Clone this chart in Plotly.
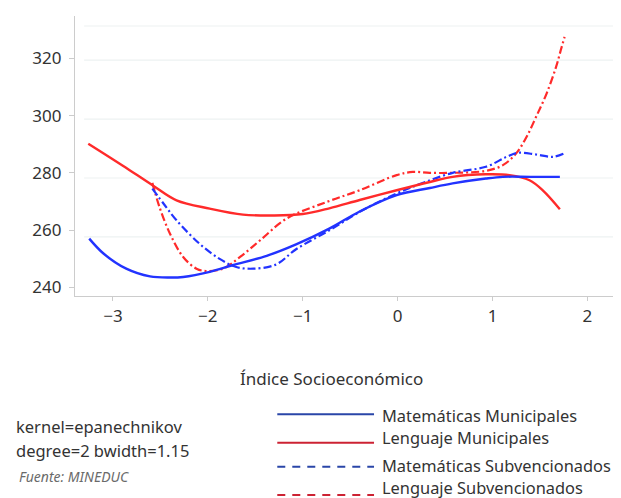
import plotly.graph_objects as go

# ---- data ----
mat_mun_x = [-3.25, -3.1, -2.86, -2.61, -2.4, -2.26, -1.98, -1.74, -1.38, -1.07, -0.72, -0.40, -0.01, 0.34, 0.58, 0.93, 1.11, 1.4, 1.71]
mat_mun_y = [257.0, 251.8, 246.5, 243.8, 243.4, 243.6, 245.4, 247.7, 251.0, 255.0, 260.5, 266.5, 272.2, 274.7, 276.3, 278.0, 278.6, 278.6, 278.6]

len_mun_x = [-3.26, -2.9, -2.58, -2.33, -1.98, -1.63, -1.3, -1.0, -0.72, -0.40, -0.01, 0.34, 0.58, 0.93, 1.18, 1.39, 1.53, 1.71]
len_mun_y = [290.2, 282.6, 275.6, 270.4, 267.5, 265.4, 265.1, 265.6, 267.6, 270.5, 273.9, 276.8, 278.6, 279.5, 279.2, 277.4, 273.9, 267.3]

mat_sub_x = [-2.585, -2.45, -2.33, -2.09, -1.88, -1.70, -1.52, -1.28, -1.07, -0.72, -0.37, -0.01, 0.27, 0.58, 0.93, 1.15, 1.27, 1.46, 1.64, 1.75]
mat_sub_y = [274.5, 268.5, 263.4, 255.3, 250.0, 247.1, 246.5, 248.0, 253.3, 259.9, 266.9, 272.8, 276.5, 280.0, 282.1, 285.6, 287.0, 286.4, 285.6, 286.7]

len_sub_x = [-2.585, -2.51, -2.40, -2.26, -2.12, -2.02, -1.84, -1.66, -1.45, -1.17, -0.75, -0.40, -0.01, 0.16, 0.34, 0.58, 0.93, 1.11, 1.25, 1.36, 1.46, 1.57, 1.67, 1.72, 1.76]
len_sub_y = [276.5, 268.1, 258.8, 250.6, 246.5, 245.7, 246.5, 250.6, 256.4, 264.0, 269.8, 273.9, 279.2, 280.3, 280.0, 280.0, 280.7, 282.7, 286.8, 292.6, 299.6, 307.7, 317.0, 322.9, 327.5]

x_ticks = [-3, -2, -1, 0, 1, 2]
y_ticks = [240, 260, 280, 300, 320]
grid_y = [257.6, 278.2, 298.8, 319.4, 331.3]

series_names = ["Matemáticas Municipales", "Lenguaje Municipales",
                "Matemáticas Subvencionados", "Lenguaje Subvencionados"]
notes = ["kernel=epanechnikov", "degree=2 bwidth=1.15"]
source = "Fuente: MINEDUC"
x_title = "Índice Socioeconómico"

BLUE = "#2233ff"
RED = "#ff2a2a"
FONT = "Noto Sans"
TXT = "#333333"

fig = go.Figure()
fig.add_trace(go.Scatter(x=len_sub_x, y=len_sub_y, mode="lines", line_shape="spline",
                         line=dict(color=RED, width=2.2, dash="8px,3px,2px,3px"), showlegend=False))
fig.add_trace(go.Scatter(x=mat_sub_x, y=mat_sub_y, mode="lines", line_shape="spline",
                         line=dict(color=BLUE, width=2.2, dash="8px,3px,2px,3px"), showlegend=False))
fig.add_trace(go.Scatter(x=len_mun_x, y=len_mun_y, mode="lines", line_shape="spline",
                         line=dict(color=RED, width=2.4), showlegend=False))
fig.add_trace(go.Scatter(x=mat_mun_x, y=mat_mun_y, mode="lines", line_shape="spline",
                         line=dict(color=BLUE, width=2.4), showlegend=False))

shapes = []
for gy in grid_y:
    shapes.append(dict(type="line", xref="paper", yref="y", x0=0.017, x1=1.015, y0=gy, y1=gy,
                       line=dict(color="#edf2f2", width=1.2), layer="below"))

# custom legend
leg_line_y = [-0.4225, -0.524, -0.6096, -0.7107]
leg_text_y = [-0.4275, -0.506, -0.6036, -0.6846]
leg_colors = ["#2a46a8", "#cc2233", "#2a46a8", "#cc2233"]
leg_dash = ["solid", "solid", "dash", "dash"]
annotations = []
for i, name in enumerate(series_names):
    shapes.append(dict(type="line", xref="paper", yref="paper", x0=0.376, x1=0.5558,
                       y0=leg_line_y[i], y1=leg_line_y[i],
                       line=dict(color=leg_colors[i], width=2,
                                 dash="solid" if leg_dash[i] == "solid" else "8px,7px")))
    annotations.append(dict(text=name, xref="paper", yref="paper", x=0.566, y=leg_text_y[i],
                            xanchor="left", yanchor="middle", showarrow=False,
                            font=dict(family=FONT, size=16.4, color=TXT)))

annotations.append(dict(text=x_title, xref="paper", yref="paper", x=0.476, y=-0.293,
                        xanchor="center", yanchor="middle", showarrow=False,
                        font=dict(family=FONT, size=17, color=TXT)))
annotations.append(dict(text=notes[0], xref="paper", yref="paper", x=-0.1134, y=-0.4668,
                        xanchor="left", yanchor="middle", showarrow=False,
                        font=dict(family=FONT, size=16.5, color=TXT)))
annotations.append(dict(text=notes[1], xref="paper", yref="paper", x=-0.1134, y=-0.55,
                        xanchor="left", yanchor="middle", showarrow=False,
                        font=dict(family=FONT, size=16.5, color=TXT)))
annotations.append(dict(text="<i>" + source + "</i>", xref="paper", yref="paper", x=-0.1084, y=-0.6454,
                        xanchor="left", yanchor="middle", showarrow=False,
                        font=dict(family=FONT, size=14, color="#6a6a6a")))

fig.update_layout(
    width=613, height=490,
    margin=dict(l=67, r=8, t=8, b=202),
    plot_bgcolor="white", paper_bgcolor="white",
    font=dict(family=FONT, size=17, color=TXT),
    shapes=shapes, annotations=annotations,
    showlegend=False,
)
fig.update_xaxes(range=[-3.40, 2.27], tickvals=x_ticks, ticks="outside", ticklen=4,
                 tickcolor="#cccccc", showline=True, linecolor="#cccccc", linewidth=1.2,
                 showgrid=False, zeroline=False, tickfont=dict(size=17, color=TXT))
fig.update_yaxes(range=[236.96, 334.8], tickvals=y_ticks, ticks="outside", ticklen=5,
                 tickcolor="#cccccc", showline=True, linecolor="#cccccc", linewidth=1.2,
                 showgrid=False, zeroline=False, tickfont=dict(size=17, color=TXT),
                 ticklabelstandoff=4)

fig.write_html("out.html")
